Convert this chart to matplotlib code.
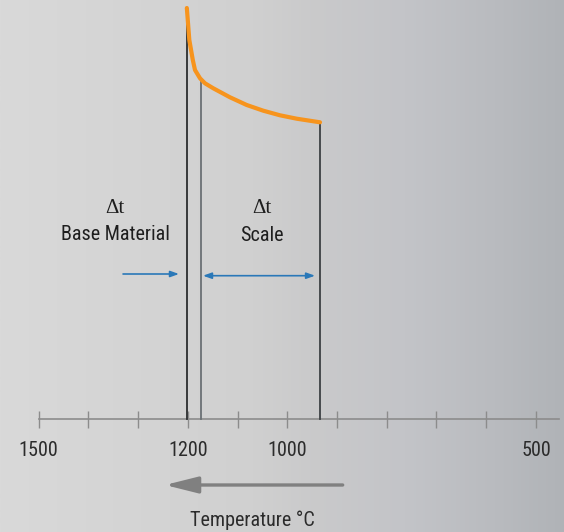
import numpy as np
import matplotlib.pyplot as plt
from matplotlib.colors import LinearSegmentedColormap

# data (temperature in °C, height above the axis in arbitrary units)
curve_temp = [1202, 1197, 1190, 1185.6, 1175.5, 1165.5, 1148.8, 1115.2, 1081.6, 1048.3, 1014.7, 981.1, 934.2]
curve_height = [411, 379, 359, 349, 340.7, 335.7, 330.7, 321.7, 314, 308.3, 303.7, 300.3, 296.7]

line_temps = [1201, 1173.5, 934.2]
line_tops = [405, 337, 296]
line_colors = ["#2b2d2f", "#6a7074", "#3c4043"]

tick_temps = [1500, 1400, 1300, 1200, 1100, 1000, 900, 800, 700, 600, 500]
label_temps = [1500, 1200, 1000, 500]

base_arrow = (1330.3, 1217.8)
scale_arrow = (1169.5, 944.2)
temp_arrow = (888.6, 1246)

plt.rcParams['font.family'] = ['Liberation Sans Narrow', 'Roboto Condensed', 'DejaVu Sans']

fig = plt.figure(figsize=(5.64, 5.32), dpi=100)
ax = fig.add_axes([0, 0, 1, 1])
ax.set_xlim(1577.7, 443.6)
ax.set_ylim(-113, 419)
ax.axis('off')

# background gradient, light on the left, bluish gray on the right
bg = LinearSegmentedColormap.from_list(
    'bg', [(0, '#d9d9d9'), (0.45, '#d0d0d0'), (0.55, '#cacacb'),
           (0.72, '#c3c4c8'), (0.88, '#b9bbbf'), (1, '#b0b3b7')])
ax.imshow(np.linspace(0, 1, 256)[None, :], cmap=bg, aspect='auto',
          extent=(1577.7, 443.6, -113, 419), zorder=0)

# temperature axis
ax.plot([1500, 453.6], [0, 0], color='#8c8c8c', lw=1.2, zorder=1)
ax.vlines(tick_temps, -8.5, 8.5, color='#8c8c8c', lw=1.0, zorder=1)
for t in label_temps:
    ax.text(t, -36.7, str(t), ha='center', va='baseline', fontsize=14.5, color='#2b2b2b')

# vertical markers
for t, top, c in zip(line_temps, line_tops, line_colors):
    ax.plot([t, t], [0, top], color=c, lw=1.3, zorder=2)

# cooling curve
ax.plot(curve_temp, curve_height, color='#f7941d', lw=3.0, solid_capstyle='round',
        solid_joinstyle='round', zorder=3)

# labels
ax.text(1346.3, 206.3, 'Δt', ha='center', va='baseline', fontsize=15,
        family=['Liberation Serif', 'DejaVu Serif'], color='#1e1e1e')
ax.text(1346.3, 179, 'Base Material', ha='center', va='baseline', fontsize=14.5, color='#1e1e1e')
ax.text(1051.5, 206.3, 'Δt', ha='center', va='baseline', fontsize=15,
        family=['Liberation Serif', 'DejaVu Serif'], color='#1e1e1e')
ax.text(1051.5, 178.3, 'Scale', ha='center', va='baseline', fontsize=14.5, color='#1e1e1e')

# blue arrows
blue = '#2a78b8'
ax.annotate('', xy=(base_arrow[1], 145), xytext=(base_arrow[0], 145),
            arrowprops=dict(arrowstyle='-|>,head_length=5,head_width=1.8', mutation_scale=1,
                            color=blue, lw=1.2, shrinkA=0, shrinkB=0))
ax.annotate('', xy=(scale_arrow[1], 143.3), xytext=(scale_arrow[0], 143.3),
            arrowprops=dict(arrowstyle='<|-|>,head_length=5,head_width=1.8', mutation_scale=1,
                            color=blue, lw=1.2, shrinkA=0, shrinkB=0))

# gray direction arrow
ax.annotate('', xy=(temp_arrow[1], -66), xytext=(temp_arrow[0], -66),
            arrowprops=dict(arrowstyle='-|>,head_length=20,head_width=5', mutation_scale=1,
                            color='#808080', lw=2.4, shrinkA=0, shrinkB=0))
ax.text(1071, -106.7, 'Temperature °C', ha='center', va='baseline', fontsize=14.5, color='#2b2b2b')

fig.savefig('out.png', dpi=100)
